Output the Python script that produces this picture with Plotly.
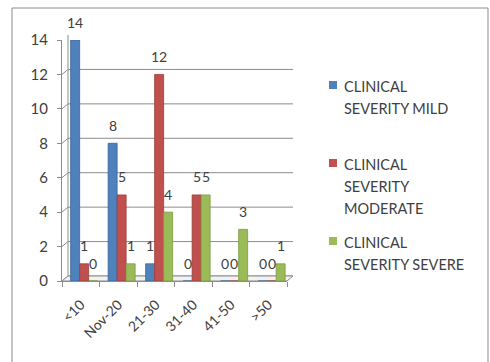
import plotly.graph_objects as go

# Age groups and patient counts per clinical severity
categories = ["<10", "Nov-20", "21-30", "31-40", "41-50", ">50"]
mild = [14, 8, 1, 0, 0, 0]
moderate = [1, 5, 12, 5, 0, 0]
severe = [0, 1, 4, 5, 3, 1]
series_names = ["CLINICAL SEVERITY MILD", "CLINICAL SEVERITY MODERATE", "CLINICAL SEVERITY SEVERE"]
legend_lines = [["CLINICAL", "SEVERITY MILD"], ["CLINICAL", "SEVERITY", "MODERATE"], ["CLINICAL", "SEVERITY SEVERE"]]
y_ticks = [0, 2, 4, 6, 8, 10, 12, 14]

colors = ["#4F81BD", "#C0504D", "#9BBB59"]
edge_colors = ["#3A6699", "#9E3B38", "#7C9A42"]

FONT = "Lato"
TXT = "#404040"
W_FIG, H_FIG = 490, 362
L, R, T, B = 62, 287, 40, 281          # plot area in pixels
PW, PH = R - L, B - T
DX, DY = 6, 5                          # depth offset of the back wall

def px(x):
    return (x - L) / PW

def py(y):
    return (B - y) / PH

fig = go.Figure()

offsets = [-0.27, -0.03, 0.21]
bar_w = 0.24
cat_px = PW / len(categories)
for vals, name, c, ec, off in zip([mild, moderate, severe], series_names, colors, edge_colors, offsets):
    fig.add_trace(go.Bar(
        x=categories, y=vals, name=name,
        width=bar_w, offset=off,
        marker=dict(color=c, line=dict(color=ec, width=0.8)),
        showlegend=False,
    ))
    for cat, v in zip(categories, vals):
        fig.add_annotation(
            x=cat, y=v, xref="x", yref="y", text=str(v), showarrow=False,
            xshift=(off + bar_w / 2) * cat_px, yshift=18,
            font=dict(family=FONT, size=14, color=TXT),
        )

shapes = []
grid_color = "#8C8C8C"
# back-wall gridlines and the slanted tick connectors
for v in y_ticks:
    shapes.append(dict(type="line", xref="paper", yref="y", ysizemode="pixel", yanchor=v,
                       x0=px(L + DX), x1=px(R + DX), y0=DY, y1=DY,
                       line=dict(color=grid_color, width=1), layer="below"))
    shapes.append(dict(type="line", xref="paper", yref="y", ysizemode="pixel", yanchor=v,
                       x0=0, x1=px(L + DX), y0=0, y1=DY,
                       line=dict(color=grid_color, width=1), layer="below"))
# left wall back edge
shapes.append(dict(type="line", xref="paper", yref="paper",
                   x0=px(L + DX), x1=px(L + DX), y0=py(B - DY), y1=py(T - DY),
                   line=dict(color=grid_color, width=1), layer="below"))
# floor
shapes.append(dict(type="path", xref="paper", yref="paper",
                   path=f"M {px(L)} {py(B)} L {px(R)} {py(B)} L {px(R + DX)} {py(B - DY)} L {px(L + DX)} {py(B - DY)} Z",
                   fillcolor="#F2F2F2", line=dict(color=grid_color, width=1), layer="below"))
# outer chart border
shapes.append(dict(type="rect", xref="paper", yref="paper",
                   x0=px(12), x1=px(488), y0=py(380), y1=py(8),
                   line=dict(color="#8A8A8A", width=1), fillcolor="rgba(0,0,0,0)"))

# legend: colour keys and wrapped labels
legend_top = [86, 164, 242]
line_gap = 22
for lines, c, y0 in zip(legend_lines, colors, legend_top):
    shapes.append(dict(type="rect", xref="paper", yref="paper",
                       x0=px(329), x1=px(337), y0=py(y0 + 3), y1=py(y0 - 5),
                       fillcolor=c, line=dict(width=0)))
    for i, t in enumerate(lines):
        fig.add_annotation(x=px(342), y=py(y0 + i * line_gap), xref="paper", yref="paper",
                           text=t, showarrow=False, xanchor="left", yanchor="middle",
                           font=dict(family=FONT, size=14.5, color=TXT))

fig.update_layout(
    width=W_FIG, height=H_FIG,
    margin=dict(l=L, r=W_FIG - R, t=T, b=H_FIG - B),
    paper_bgcolor="white", plot_bgcolor="rgba(0,0,0,0)",
    barmode="overlay",
    shapes=shapes,
    font=dict(family=FONT, color=TXT),
)
fig.update_xaxes(
    type="category", range=[-0.5, len(categories) - 0.5],
    showline=True, linecolor=grid_color, linewidth=1,
    ticks="outside", ticklen=5, tickcolor=grid_color, tickson="boundaries",
    tickangle=-45, tickfont=dict(family=FONT, size=14, color=TXT),
    ticklabelstandoff=9,
    showgrid=False, zeroline=False,
)
fig.update_yaxes(
    range=[0, 14], tickvals=y_ticks,
    showline=True, linecolor=grid_color, linewidth=1,
    ticks="outside", ticklen=4, tickcolor=grid_color,
    ticklabelstandoff=6,
    tickfont=dict(family=FONT, size=15, color=TXT),
    showgrid=False, zeroline=False,
)

fig.write_html("out.html")
